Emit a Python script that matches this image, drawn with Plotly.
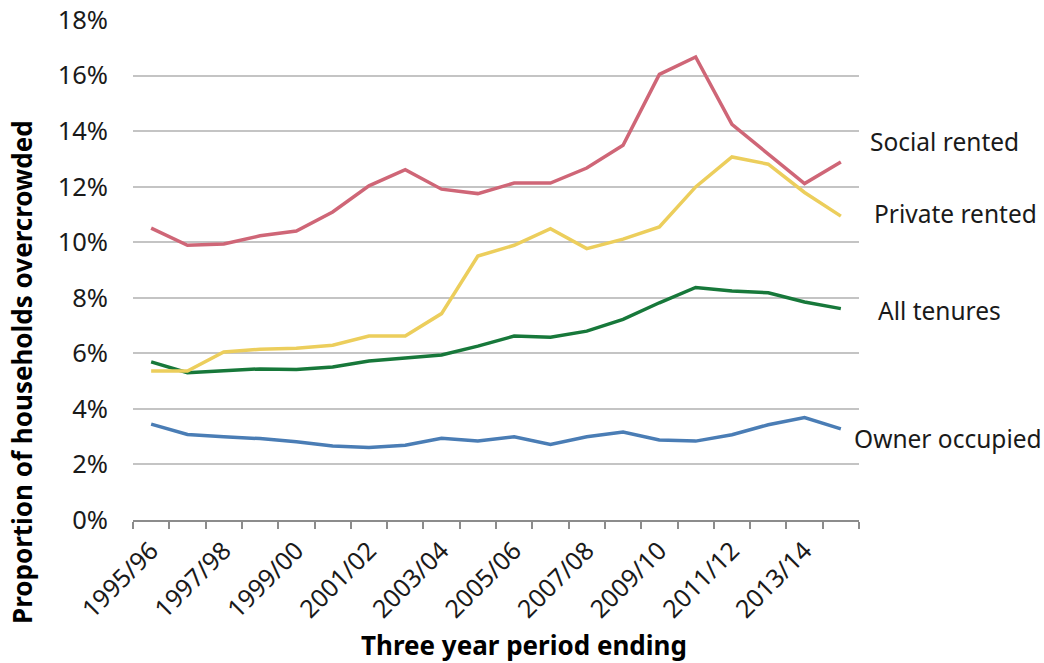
import plotly.graph_objects as go

periods = ["1995/96", "1996/97", "1997/98", "1998/99", "1999/00", "2000/01", "2001/02",
           "2002/03", "2003/04", "2004/05", "2005/06", "2006/07", "2007/08", "2008/09",
           "2009/10", "2010/11", "2011/12", "2012/13", "2013/14", "2014/15"]

social_rented = [10.51, 9.89, 9.94, 10.23, 10.40, 11.09, 12.03, 12.61, 11.91, 11.75,
                 12.13, 12.13, 12.67, 13.49, 16.04, 16.67, 14.24, 13.19, 12.11, 12.89]
private_rented = [5.36, 5.36, 6.05, 6.15, 6.18, 6.29, 6.62, 6.62, 7.43, 9.50,
                  9.89, 10.49, 9.77, 10.11, 10.55, 11.99, 13.07, 12.81, 11.79, 10.94]
all_tenures = [5.69, 5.30, 5.37, 5.44, 5.42, 5.51, 5.72, 5.84, 5.94, 6.26,
               6.62, 6.58, 6.80, 7.22, 7.82, 8.37, 8.24, 8.18, 7.85, 7.61]
owner_occupied = [3.45, 3.08, 3.00, 2.93, 2.82, 2.66, 2.61, 2.69, 2.94, 2.84,
                  3.00, 2.72, 3.00, 3.17, 2.88, 2.84, 3.07, 3.43, 3.69, 3.28]

series = [
    ("Owner occupied", owner_occupied, "#4a7db5"),
    ("All tenures", all_tenures, "#17783a"),
    ("Private rented", private_rented, "#ecce5c"),
    ("Social rented", social_rented, "#cf6677"),
]
# label centre positions (pixel x, value y)
label_pos = {"Social rented": (944, 13.63), "Private rented": (955, 11.04),
             "All tenures": (939.5, 7.55), "Owner occupied": (947.5, 2.95)}

y_ticks = [0, 2, 4, 6, 8, 10, 12, 14, 16, 18]
y_ticktext = [f"{v}%" for v in y_ticks]

FONT = "Noto Sans"
L, R, T, B = 133, 185, 20, 143
PW, PH = 1044 - L - R, 663 - T - B

fig = go.Figure()
for name, vals, color in series:
    fig.add_trace(go.Scatter(x=periods, y=vals, mode="lines", name=name,
                             line=dict(color=color, width=3.5)))

annotations = []
for name, vals, color in series:
    px, ly = label_pos[name]
    annotations.append(dict(x=(px - L) / PW, y=ly, xref="paper", yref="y",
                            text=name, showarrow=False, xanchor="center", yanchor="middle",
                            font=dict(family=FONT, size=24.5, color="#1a1a1a")))

annotations.append(dict(x=(22 - L) / PW, y=(663 - 372 - B) / PH, xref="paper", yref="paper",
                        text="<b>Proportion of households overcrowded</b>", textangle=-90,
                        showarrow=False, xanchor="center", yanchor="middle",
                        font=dict(family=FONT, size=26, color="black")))
annotations.append(dict(x=(524 - L) / PW, y=-(645 - (663 - B)) / PH, xref="paper", yref="paper",
                        text="<b>Three year period ending</b>",
                        showarrow=False, xanchor="center", yanchor="middle",
                        font=dict(family=FONT, size=26, color="black")))

fig.update_layout(
    width=1044, height=663,
    margin=dict(l=L, r=R, t=T, b=B),
    plot_bgcolor="white", paper_bgcolor="white",
    showlegend=False,
    annotations=annotations,
    font=dict(family=FONT, size=23, color="#1a1a1a"),
)
fig.update_xaxes(
    type="category", range=[-0.5, len(periods) - 0.5], automargin=False,
    tickmode="array", tickvals=periods,
    ticktext=[p if i % 2 == 0 else "" for i, p in enumerate(periods)],
    tickangle=-45, tickson="boundaries", ticks="outside", ticklen=7, tickwidth=1.5,
    tickcolor="#8c8c8c", showline=True, linecolor="#8c8c8c", linewidth=2,
    showgrid=False, ticklabelstandoff=4,
    tickfont=dict(family=FONT, size=25, color="#1a1a1a"),
)
fig.update_yaxes(
    range=[0, 18], automargin=False, tickmode="array", tickvals=y_ticks, ticktext=y_ticktext,
    showgrid=True, gridcolor="#c4c4c4", gridwidth=1.5, zeroline=False,
    showline=False, ticks="", ticklabelstandoff=24,
    tickfont=dict(family=FONT, size=25.5, color="#1a1a1a"),
)

fig.write_html("out.html", config={"displayModeBar": False},
               post_script="document.body.style.margin='0';document.body.style.overflow='hidden';")
